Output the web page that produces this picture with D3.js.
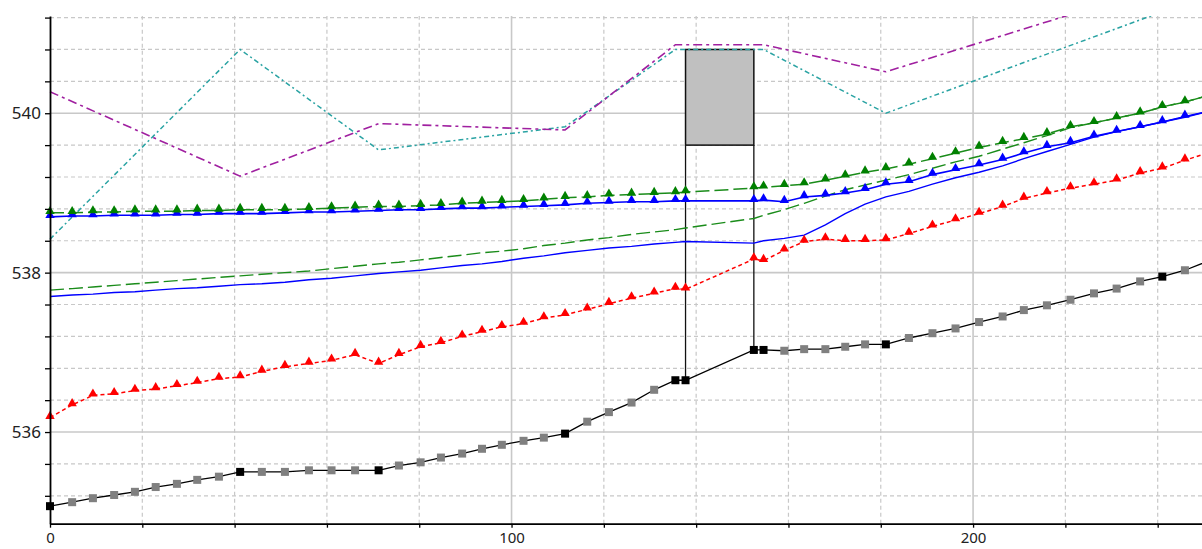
<!DOCTYPE html>
<html><head><meta charset="utf-8">
<script src="https://cdn.jsdelivr.net/npm/d3@7"></script>
<style>html,body{margin:0;padding:0;background:#fff;overflow:hidden}</style>
</head><body>
<svg id="chart" width="1202" height="549"></svg>
<script>
// ---------- DATA ----------
const stations = [0, 4.8, 9.3, 13.9, 18.4, 22.9, 27.5, 31.9, 36.6, 41.2, 45.9, 50.9, 56.1, 61.0, 66.1, 71.2, 75.6, 80.3, 84.7, 89.3, 93.6, 97.9, 102.6, 107.0, 111.6, 116.4, 121.1, 126.0, 130.9, 135.5, 137.7, 152.5, 154.6, 159.1, 163.4, 168.0, 172.3, 176.6, 181.1, 186.1, 191.2, 196.2, 201.3, 206.4, 211.0, 216.0, 221.1, 226.2, 231.1, 236.2, 241.0, 245.9, 250.7];
const sectionStations = [0, 41.2, 71.2, 111.6, 135.5, 137.7, 152.5, 154.6, 181.1, 241.0];
const bed = [535.07, 535.12, 535.17, 535.21, 535.25, 535.31, 535.35, 535.40, 535.44, 535.50, 535.50, 535.50, 535.52, 535.52, 535.52, 535.52, 535.58, 535.62, 535.68, 535.73, 535.79, 535.84, 535.89, 535.93, 535.98, 536.13, 536.25, 536.37, 536.53, 536.65, 536.65, 537.03, 537.03, 537.02, 537.04, 537.04, 537.07, 537.10, 537.10, 537.18, 537.24, 537.30, 537.38, 537.45, 537.53, 537.59, 537.66, 537.74, 537.80, 537.89, 537.95, 538.03, 538.14];
const critical = [536.18, 536.34, 536.46, 536.48, 536.52, 536.54, 536.58, 536.62, 536.67, 536.69, 536.76, 536.82, 536.86, 536.90, 536.97, 536.86, 536.97, 537.07, 537.12, 537.20, 537.26, 537.32, 537.36, 537.43, 537.47, 537.54, 537.61, 537.68, 537.74, 537.80, 537.79, 538.17, 538.15, 538.28, 538.39, 538.42, 538.40, 538.40, 538.41, 538.49, 538.58, 538.66, 538.74, 538.83, 538.93, 539.00, 539.06, 539.11, 539.16, 539.25, 539.31, 539.41, 539.50];
const wsA = [538.70, 538.71, 538.71, 538.72, 538.72, 538.72, 538.73, 538.73, 538.74, 538.74, 538.74, 538.75, 538.76, 538.76, 538.77, 538.78, 538.79, 538.79, 538.80, 538.81, 538.81, 538.82, 538.83, 538.84, 538.85, 538.87, 538.88, 538.89, 538.89, 538.90, 538.90, 538.90, 538.91, 538.89, 538.95, 538.97, 539.00, 539.04, 539.11, 539.14, 539.23, 539.29, 539.35, 539.42, 539.50, 539.58, 539.63, 539.71, 539.77, 539.83, 539.89, 539.96, 540.02];
const egA = [538.75, 538.75, 538.76, 538.76, 538.77, 538.77, 538.77, 538.78, 538.78, 538.79, 538.79, 538.79, 538.80, 538.81, 538.82, 538.83, 538.83, 538.84, 538.85, 538.87, 538.88, 538.89, 538.90, 538.92, 538.94, 538.95, 538.97, 538.98, 538.99, 539.00, 539.01, 539.06, 539.07, 539.09, 539.11, 539.16, 539.21, 539.26, 539.30, 539.36, 539.43, 539.50, 539.57, 539.63, 539.68, 539.74, 539.83, 539.88, 539.94, 540.00, 540.08, 540.14, 540.22];
const wsB = [537.70, 537.72, 537.73, 537.75, 537.76, 537.78, 537.80, 537.81, 537.83, 537.85, 537.86, 537.88, 537.91, 537.93, 537.96, 537.99, 538.01, 538.03, 538.06, 538.09, 538.11, 538.14, 538.18, 538.21, 538.25, 538.28, 538.31, 538.33, 538.36, 538.38, 538.39, 538.37, 538.40, 538.43, 538.47, 538.60, 538.74, 538.86, 538.95, 539.02, 539.11, 539.19, 539.26, 539.34, 539.43, 539.52, 539.61, 539.70, 539.77, 539.83, 539.89, 539.95, 540.02];
const egB = [537.78, 537.80, 537.82, 537.84, 537.86, 537.88, 537.90, 537.92, 537.94, 537.96, 537.98, 538.00, 538.02, 538.05, 538.08, 538.11, 538.13, 538.16, 538.19, 538.22, 538.25, 538.27, 538.30, 538.34, 538.37, 538.41, 538.44, 538.48, 538.51, 538.54, 538.56, 538.68, 538.72, 538.79, 538.87, 538.96, 539.04, 539.10, 539.16, 539.23, 539.31, 539.39, 539.46, 539.55, 539.63, 539.72, 539.82, 539.88, 539.94, 540.00, 540.08, 540.14, 540.22];
const bankX = [0, 41.2, 71.2, 111.6, 135.5, 154.6, 181.1, 250.7];
const leftBank = [538.42, 540.80, 539.54, 539.83, 540.80, 540.80, 540.00, 541.48];
const rightBank = [540.27, 539.21, 539.87, 539.79, 540.86, 540.86, 540.52, 541.77];
const bridgeX = [137.7, 152.5];
const bridgeDeck = 540.80;
const bridgeLowChord = 539.60;
const bridgeGround = [536.65, 537.03];
const xTicks = [0, 20, 40, 60, 80, 100, 120, 140, 160, 180, 200, 220, 240];
const xLabels = [0, 100, 200];
const yTicks = [535.2, 535.6, 536.0, 536.4, 536.8, 537.2, 537.6, 538.0, 538.4, 538.8, 539.2, 539.6, 540.0, 540.4, 540.8, 541.2];
const yLabels = [536, 538, 540];

// ---------- CHART ----------
const svg = d3.select('#chart');
const x = d3.scaleLinear().domain([0, 249.6]).range([50, 1202]);
const y = d3.scaleLinear().domain([534.85, 541.22]).range([523.7, 16]);
const X0 = 50, X1 = 1202, Y0 = 523.7, Y1 = 16;

svg.append('defs').append('clipPath').attr('id','clip')
  .append('rect').attr('x',0).attr('y',Y1).attr('width',1202).attr('height',549-Y1);

// grid
const grid = svg.append('g');
xTicks.filter(d => d > 0).forEach(d => {
  const major = xLabels.includes(d);
  grid.append('line').attr('x1',x(d)).attr('x2',x(d)).attr('y1',Y0).attr('y2',Y1)
    .attr('stroke','#c8c8c8').attr('stroke-width', major?1.6:1.2)
    .attr('stroke-dasharray', major?null:'4,3');
});
yTicks.forEach(d => {
  const major = yLabels.some(v => Math.abs(v-d) < 1e-6);
  grid.append('line').attr('x1',X0).attr('x2',X1).attr('y1',y(d)).attr('y2',y(d))
    .attr('stroke','#c8c8c8').attr('stroke-width', major?1.6:1.2)
    .attr('stroke-dasharray', major?null:'4,3');
});

const plot = svg.append('g').attr('clip-path','url(#clip)');

// bridge
plot.append('rect')
  .attr('x', x(bridgeX[0])).attr('y', y(bridgeDeck))
  .attr('width', x(bridgeX[1]) - x(bridgeX[0]))
  .attr('height', y(bridgeLowChord) - y(bridgeDeck))
  .attr('fill','#c0c0c0').attr('stroke','#111').attr('stroke-width',1.5);
bridgeX.forEach((bx,i) => {
  plot.append('line').attr('x1',x(bx)).attr('x2',x(bx))
    .attr('y1',y(bridgeLowChord)).attr('y2',y(bridgeGround[i]))
    .attr('stroke','#111').attr('stroke-width',1.3);
});

const line = d3.line().x(d => x(d[0])).y(d => y(d[1]));
function zipXY(xs, ys){ return xs.map((v,i) => [v, ys[i]]); }
function drawLine(data, color, width, dash){
  plot.append('path').datum(data).attr('d', line)
    .attr('fill','none').attr('stroke',color).attr('stroke-width',width)
    .attr('stroke-dasharray', dash);
}

// bank / levee lines
drawLine(zipXY(bankX, leftBank), '#2aa3a3', 1.5, '5,3,2,3');
drawLine(zipXY(bankX, rightBank), '#a020a0', 1.6, '9,4,3,4');

// lower profiles
drawLine(zipXY(stations, egB), '#1a8c1a', 1.4, '14,5');
drawLine(zipXY(stations, wsB), '#0000ff', 1.4, null);

// bed
drawLine(zipXY(stations, bed), '#000', 1.3, null);
// critical
drawLine(zipXY(stations, critical), '#ff0000', 1.5, '4,3');
// upper water surface
drawLine(zipXY(stations, wsA), '#0000ff', 1.6, null);
// upper energy
drawLine(zipXY(stations, egA), '#1a8c1a', 1.5, '14,5');

// markers
const tri = d3.symbol().type(d3.symbolTriangle).size(38);
function drawTris(ys, color){
  plot.append('g').selectAll('path').data(zipXY(stations, ys)).join('path')
    .attr('d', tri).attr('transform', d => `translate(${x(d[0])},${y(d[1])-1.5})`)
    .attr('fill', color);
}
drawTris(critical, '#ff0000');
drawTris(wsA, '#0000ff');
drawTris(egA, '#008000');

plot.append('g').selectAll('rect').data(zipXY(stations, bed)).join('rect')
  .attr('x', d => x(d[0]) - 4).attr('y', d => y(d[1]) - 4)
  .attr('width',8).attr('height',8)
  .attr('fill', d => sectionStations.includes(d[0]) ? '#000' : '#808080');

// axes
const fmt = d => (yLabels.some(v => Math.abs(v-d) < 1e-6) ? d3.format('d')(d) : '');
const yAxis = svg.append('g').attr('transform',`translate(${X0},0)`)
  .call(d3.axisLeft(y).tickValues(yTicks).tickSize(5).tickSizeOuter(0).tickPadding(4).tickFormat(fmt));
const xAxis = svg.append('g').attr('transform',`translate(0,${Y0})`)
  .call(d3.axisBottom(x).tickValues(xTicks).tickSize(4).tickSizeOuter(0).tickPadding(5)
    .tickFormat(d => xLabels.includes(d) ? d : ''));
[yAxis, xAxis].forEach(a => {
  a.select('.domain').attr('stroke','#000').attr('stroke-width',1.8);
  a.selectAll('.tick line').attr('stroke','#000').attr('stroke-width',1.3);
  a.selectAll('text').attr('font-family','Noto Sans, DejaVu Sans, sans-serif')
    .attr('font-size',17).attr('fill','#222');
});
xAxis.selectAll('text').attr('font-size',15);
</script>
</body></html>
